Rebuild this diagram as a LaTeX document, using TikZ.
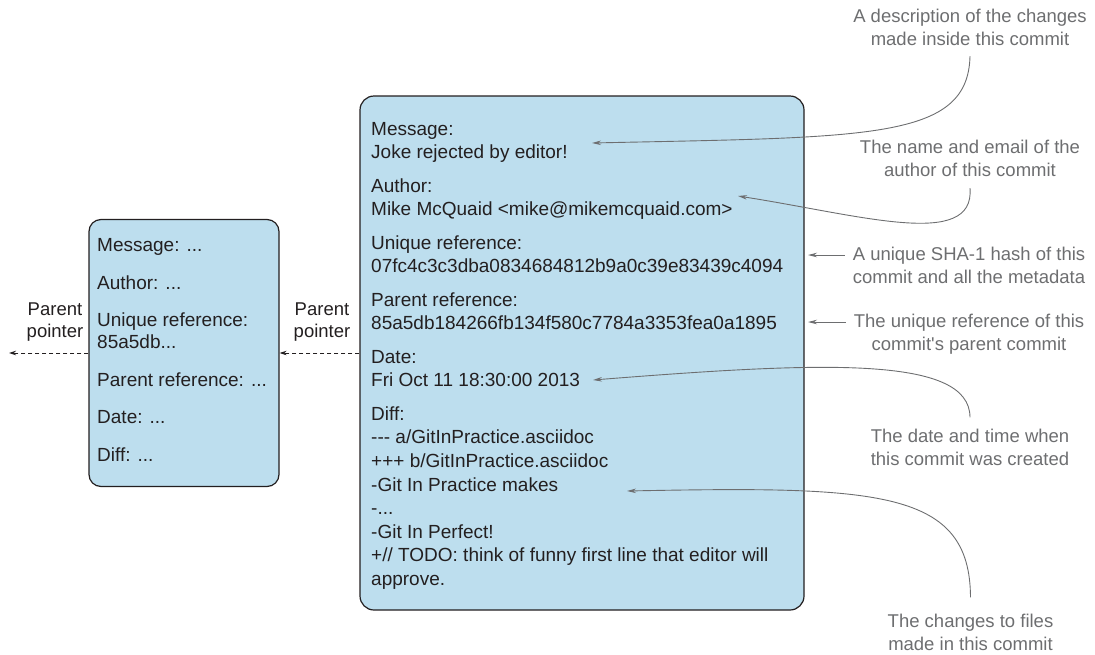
\documentclass[tikz,border=0pt]{standalone}
\usepackage{fontspec}
\setmainfont{Liberation Sans}
\usetikzlibrary{arrows.meta}

\definecolor{commitblue}{RGB}{189,222,238}
\definecolor{ink}{RGB}{35,31,32}
\definecolor{notegray}{RGB}{109,110,112}

\begin{document}
\begin{tikzpicture}[x=1pt, y=-1pt,
        commitbox/.style={draw=ink, fill=commitblue, line width=1.2pt,
            rounded corners=14pt, inner sep=0pt},
        fields/.style={anchor=north west, inner sep=0pt, align=left, text=ink},
        note/.style={anchor=north, inner xsep=8pt, inner ysep=0pt, align=center,
            text=notegray, font=\fontsize{18.5}{23}\selectfont},
        notearrow/.style={draw=notegray, line width=0.9pt,
            -{Stealth[length=9pt, width=4.5pt]}},
        parentptr/.style={draw=ink, line width=0.9pt, dash pattern=on 4pt off 3pt,
            -{Stealth[length=7pt, width=4.5pt]}},
        ptrlabel/.style={anchor=north, inner sep=0pt, align=center, text=ink,
            font=\fontsize{18.5}{22.3}\selectfont}]
    \useasboundingbox (0,0) rectangle (1095,654);

    % the commit and its parent
    \node[commitbox, minimum width=444pt, minimum height=514pt] (commit) at (582,353) {};
    \node[commitbox, rounded corners=12pt, minimum width=190pt, minimum height=267pt]
        (parent) at (184,353) {};

    \node[fields, font=\fontsize{19}{23.6}\selectfont] (commitFields) at (371,122) {%
        Message:\\
        Joke rejected by editor!\\[9.8pt]
        Author:\\
        Mike McQuaid <mike@mikemcquaid.com>\\[9.8pt]
        Unique reference:\\
        07fc4c3c3dba0834684812b9a0c39e83439c4094\\[9.8pt]
        Parent reference:\\
        85a5db184266fb134f580c7784a3353fea0a1895\\[9.8pt]
        Date:\\
        Fri Oct 11 18:30:00 2013\\[9.8pt]
        Diff:\\
        -\kern0pt-\kern0pt- a/GitInPractice.asciidoc\\
        +++ b/GitInPractice.asciidoc\\
        -Git In Practice makes\\
        -...\\
        -Git In Perfect!\\
        +// TODO: think of funny first line that editor will\\
        approve.};

    \node[fields, font=\fontsize{19}{22}\selectfont] (parentFields) at (97,238.3) {%
        Message: ...\\[15.6pt]
        Author: ...\\[15.6pt]
        Unique reference:\\
        85a5db...\\[15.6pt]
        Parent reference: ...\\[15.6pt]
        Date: ...\\[15.6pt]
        Diff: ...};

    % parent pointers
    \coordinate (grandparent) at (9,353);
    \draw[parentptr] (commit.west) -- (parent.east);
    \draw[parentptr] (parent.west) -- (grandparent);
    \node[ptrlabel] (ptrRight) at (322,302.6) {Parent\\pointer};
    \node[ptrlabel] (ptrLeft) at (55,302.6) {Parent\\pointer};

    % notes on the fields
    \node[note] (descNote) at (970,9.2) {A description of the changes\\made inside this commit};
    \node[note] (authorNote) at (970,140.2) {The name and email of the\\author of this commit};
    \node[note] (shaNote) at (969,246.7) {A unique SHA-1 hash of this\\commit and all the metadata};
    \node[note] (parentNote) at (969,313.4)
        {The unique reference of this\\commit\textquotesingle s parent commit};
    \node[note] (dateNote) at (970,428.4) {The date and time when\\this commit was created};
    \node[note] (diffNote) at (970.5,613.4) {The changes to files\\made in this commit};

    \coordinate (messageTip) at (592,143);
    \coordinate (authorTip) at (738,196);
    \coordinate (shaTip) at (808,255);
    \coordinate (parentTip) at (808,322);
    \coordinate (dateTip) at (593,380);
    \coordinate (diffTip) at (627,491);

    \draw[notearrow] ([yshift=-10pt]descNote.south) .. controls (968,140) and (870,137) .. (messageTip);
    \draw[notearrow] ([yshift=-11pt]authorNote.south) .. controls (975,250) and (860,215) .. (authorTip);
    \draw[notearrow] (shaNote.west |- shaTip) -- (shaTip);
    \draw[notearrow] (parentNote.west |- parentTip) -- (parentTip);
    \draw[notearrow] ([yshift=11pt]dateNote.north) .. controls (970,355) and (820,362) .. (dateTip);
    \draw[notearrow] ([yshift=16pt]diffNote.north) .. controls (970,490) and (880,486) .. (diffTip);
\end{tikzpicture}
\end{document}
